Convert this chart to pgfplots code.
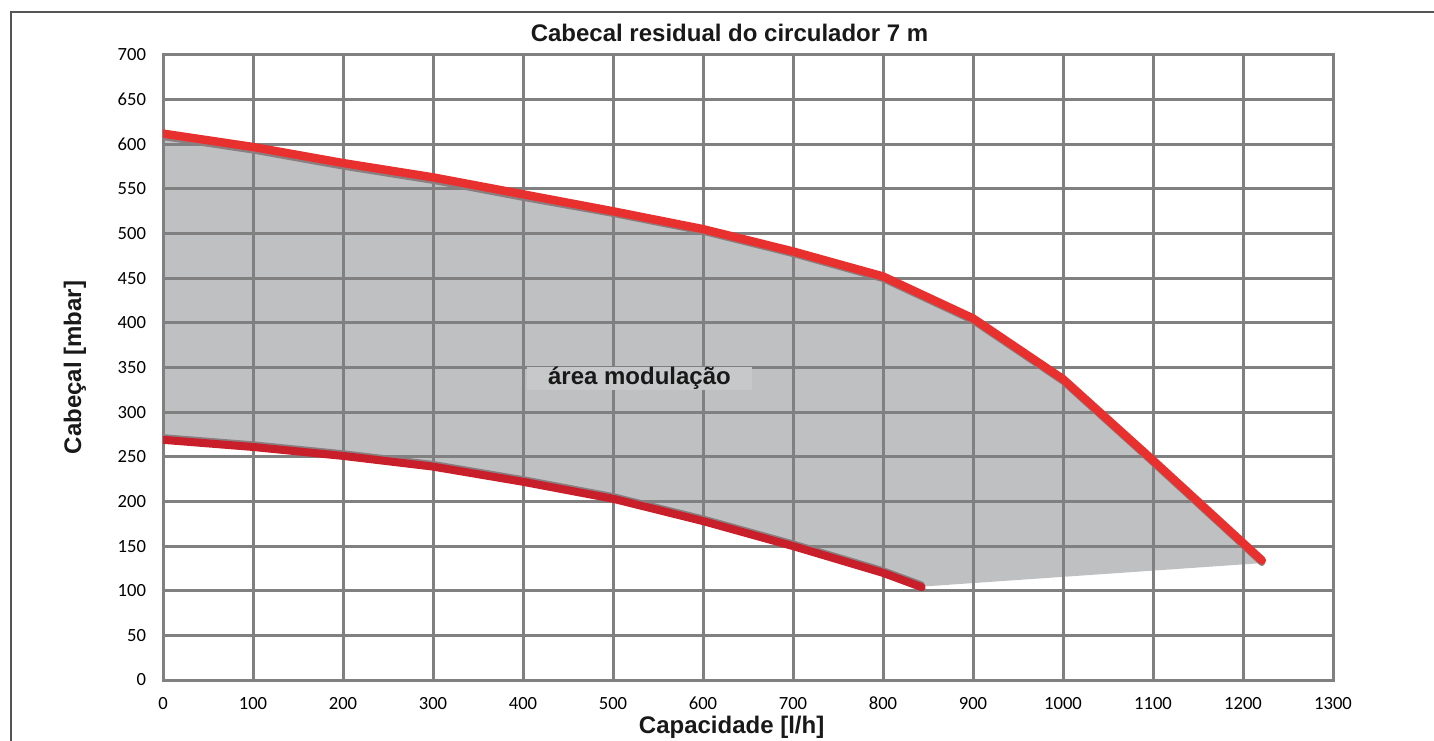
\documentclass[border=0pt]{standalone}
\usepackage{pgfplots}
\pgfplotsset{compat=1.18}
\usepackage{fontspec}
\setmainfont{Liberation Sans}
\newfontfamily\calibri{Carlito}
\definecolor{gridgray}{HTML}{808080}
\definecolor{fillgray}{HTML}{BFC0C2}
\definecolor{boxgray}{HTML}{C7C8CA}
\definecolor{redup}{HTML}{E8312F}
\definecolor{redlow}{HTML}{C81F2B}
\definecolor{shadegray}{HTML}{8A7F80}
\definecolor{framegray}{HTML}{555555}
\begin{document}
\begin{tikzpicture}
\begin{axis}[
  set layers,
  scale only axis,
  width=585pt, height=312.5pt,
  at={(0,0)}, anchor=south west,
  xmin=0, xmax=1300, ymin=0, ymax=700,
  xtick={0,100,...,1300}, ytick={0,50,...,700},
  major tick length=0pt,
  xmajorgrids, ymajorgrids,
  grid style={color=gridgray, line width=1.5pt},
  axis line style={color=gridgray, line width=1.5pt},
  /pgf/number format/assume math mode=true,
  /pgf/number format/1000 sep={},
  ticklabel style={font=\calibri\fontsize{9.3}{11}\selectfont, text=black},
  yticklabel style={xshift=-5pt},
  xticklabel style={yshift=-5pt},
  title={Cabecal residual do circulador 7 m},
  title style={font=\bfseries\fontsize{12}{14}\selectfont, text=black!90, at={(axis description cs:0.4842,1.0352)}, anchor=center, yshift=-6pt},
  xlabel={Capacidade [l/h]},
  xlabel style={font=\bfseries\fontsize{12}{14}\selectfont, text=black!90, at={(axis description cs:0.486,-0.0752)}, anchor=center},
  ylabel={Cabeçal [mbar]},
  ylabel style={font=\bfseries\fontsize{12}{14}\selectfont, text=black!90, at={(axis description cs:-0.0752,0.5)}, anchor=center},
]
% modulation area
\addplot[fill=fillgray, draw=none, on layer=axis background] coordinates {
(0,608) (100,593) (200,575) (300,559) (400,540) (500,522) (600,502) (700,477) (800,449) (900,402) (1000,334) (1100,243) (1222,131)
(849,105)
(800,123) (700,153) (600,181) (500,206) (400,225) (300,242) (200,254) (100,264) (0,272) (0,608)
};
% lower curve
\addplot[shadegray, line width=3pt, line cap=round, line join=round] coordinates {
(0,272) (100,264) (200,254) (300,242) (400,225) (500,206) (600,181) (700,153) (800,123) (843,107)
};
\addplot[redlow, line width=4pt, line cap=round, line join=round] coordinates {
(0,269) (100,261) (200,251) (300,239) (400,222) (500,203) (600,178) (700,150) (800,120) (843,104)
};
% upper curve
\addplot[shadegray, line width=3pt, line cap=round, line join=round] coordinates {
(0,608) (100,593) (200,575) (300,559) (400,540) (500,522) (600,502) (700,477) (800,449) (900,402) (1000,334) (1100,243) (1221,131)
};
\addplot[redup, line width=4.2pt, line cap=round, line join=round] coordinates {
(0,612) (100,597) (200,579) (300,563) (400,544) (500,525) (600,505) (700,480) (800,452) (900,405) (1000,337) (1100,246) (1221,134)
};
\node[fill=boxgray, minimum width=112.5pt, minimum height=10.5pt, inner sep=0pt,
      font=\bfseries\fontsize{12}{14}\selectfont, text=black!90] at (axis cs:529.4,338) {área modulação};
\end{axis}
\draw[framegray, line width=1pt] (-76pt,-40pt) -- (-76pt,334pt) -- (645pt,334pt);
\pgfresetboundingbox
\useasboundingbox (-81.5pt,-30pt) rectangle (635.5pt,340pt);
\end{tikzpicture}
\end{document}
